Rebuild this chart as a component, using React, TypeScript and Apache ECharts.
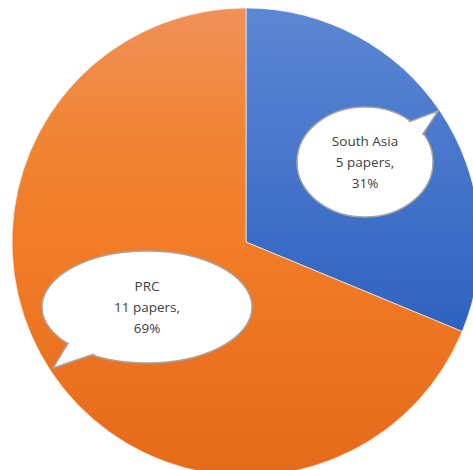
import React, { useEffect, useRef } from "react";
import * as echarts from "echarts";

const categories = ["South Asia", "PRC"];
const papers = [5, 11];
const percents = ["31%", "69%"];

export default function App() {
  const ref = useRef<HTMLDivElement>(null);
  useEffect(() => {
    document.body.style.margin = "0";
    const chart = echarts.init(ref.current!, null, { renderer: "svg" });
    const colors = [
      new echarts.graphic.LinearGradient(0, 0, 0, 1, [
        { offset: 0, color: "#5c87d4" },
        { offset: 1, color: "#2f62c0" },
      ]),
      new echarts.graphic.LinearGradient(0, 0, 0, 1, [
        { offset: 0, color: "#f0915a" },
        { offset: 0.25, color: "#f08535" },
        { offset: 0.5, color: "#f27c27" },
        { offset: 1, color: "#e56a1a" },
      ]),
    ];
    const bubbles = [
      { cx: 365, cy: 162, rx: 68, ry: 55, tail: [[403, 124], [438, 111], [419, 140]] },
      { cx: 147, cy: 307, rx: 105, ry: 56, tail: [[70, 340], [53, 368], [100, 352]] },
    ];
    const graphic: any[] = [];
    bubbles.forEach((b, i) => {
      graphic.push({
        type: "ellipse",
        shape: { cx: b.cx, cy: b.cy, rx: b.rx, ry: b.ry },
        style: { fill: "#fff", stroke: "#a6a6a6", lineWidth: 1.5 },
        z: 10,
      });
      graphic.push({
        type: "polygon",
        shape: { points: b.tail },
        style: { fill: "#fff", stroke: "#a6a6a6", lineWidth: 1.5 },
        z: 11,
      });
      graphic.push({
        type: "ellipse",
        shape: { cx: b.cx, cy: b.cy, rx: b.rx - 1.5, ry: b.ry - 1.5 },
        style: { fill: "#fff" },
        z: 12,
      });
      graphic.push({
        type: "text",
        x: b.cx,
        y: b.cy,
        style: {
          text: `${categories[i]}\n${papers[i]} papers,\n${percents[i]}`,
          fill: "#404040",
          font: "13.5px 'Open Sans'",
          align: "center",
          verticalAlign: "middle",
          lineHeight: 21,
        },
        z: 13,
      });
    });
    chart.setOption({
      animation: false,
      series: [
        {
          type: "pie",
          center: [246, 242],
          radius: 234,
          startAngle: 90,
          clockwise: true,
          label: { show: false },
          labelLine: { show: false },
          itemStyle: { borderColor: "rgba(255,255,255,0.6)", borderWidth: 1 },
          data: categories.map((c, i) => ({
            name: c,
            value: papers[i],
            itemStyle: { color: colors[i] },
          })),
        },
      ],
      graphic,
    });
    return () => chart.dispose();
  }, []);
  return <div ref={ref} style={{ width: 473, height: 470 }} />;
}
